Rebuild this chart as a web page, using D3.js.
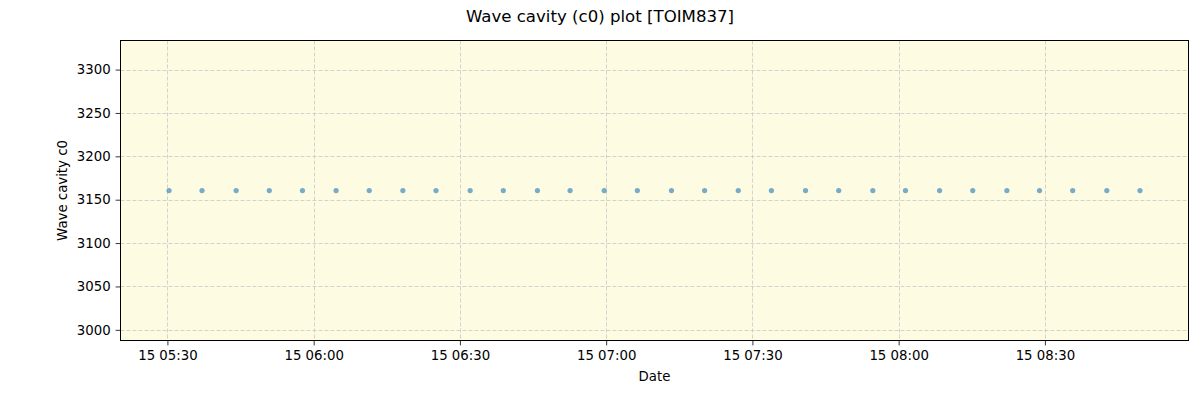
<!DOCTYPE html>
<html>
<head>
  <meta charset="utf-8">
  <script src="https://cdn.jsdelivr.net/npm/d3@7"></script>
  <style>
    body { margin: 0; background: #fff; }
    svg text { font-family: "DejaVu Sans", sans-serif; fill: #000; }
  </style>
</head>
<body>
<script>
  // measurement times (day 15) and wave cavity values
  var times = ["05:30:20", "05:37:06", "05:44:06", "05:50:54", "05:57:42", "06:04:36",
               "06:11:24", "06:18:18", "06:25:06", "06:32:06", "06:38:54", "06:45:54",
               "06:52:36", "06:59:36", "07:06:24", "07:13:24", "07:20:12", "07:27:06",
               "07:33:54", "07:40:54", "07:47:42", "07:54:42", "08:01:24", "08:08:24",
               "08:15:12", "08:22:12", "08:28:54", "08:35:42", "08:42:42", "08:49:30"];
  var c0 = [3160.5, 3160.5, 3160.5, 3160.5, 3160.5, 3160.5, 3160.5, 3160.5, 3160.5, 3160.5,
            3160.5, 3160.5, 3160.5, 3160.5, 3160.5, 3160.5, 3160.5, 3160.5, 3160.5, 3160.5,
            3160.5, 3160.5, 3160.5, 3160.5, 3160.5, 3160.5, 3160.5, 3160.5, 3160.5, 3160.5];
  var xTicks = ["05:30", "06:00", "06:30", "07:00", "07:30", "08:00", "08:30"];
  var yTicks = [3000, 3050, 3100, 3150, 3200, 3250, 3300];

  var parse = d3.timeParse("%Y-%m-%d %H:%M:%S");
  var day = "2024-01-15 ";
  var data = times.map(function(t, i) { return {date: parse(day + t), v: c0[i]}; });

  var W = 1200, H = 400;
  var m = {left: 120.5, right: 1188.5, top: 40.5, bottom: 340.5};

  var svg = d3.select("body").append("svg")
    .attr("width", W).attr("height", H);

  // 5% margins around data, like matplotlib
  var ext = d3.extent(data, function(d) { return d.date; });
  var pad = (ext[1] - ext[0]) * 0.05;
  var x = d3.scaleTime()
    .domain([new Date(+ext[0] - pad), new Date(+ext[1] + pad)])
    .range([m.left, m.right]);
  var y = d3.scaleLinear()
    .domain([2987.7, 3333.5])
    .range([m.bottom, m.top]);

  svg.append("rect")
    .attr("x", m.left).attr("y", m.top)
    .attr("width", m.right - m.left).attr("height", m.bottom - m.top)
    .attr("fill", "#fdfbe2");

  var xTickDates = xTicks.map(function(t) { return parse(day + t + ":00"); });

  // grid
  svg.append("g").selectAll("line").data(xTickDates).enter().append("line")
    .attr("x1", function(d) { return Math.round(x(d)) + 0.5; })
    .attr("x2", function(d) { return Math.round(x(d)) + 0.5; })
    .attr("y1", m.top).attr("y2", m.bottom)
    .attr("stroke", "#c8c8c8").attr("stroke-width", 0.8)
    .attr("stroke-dasharray", "4,2");
  svg.append("g").selectAll("line").data(yTicks).enter().append("line")
    .attr("y1", function(d) { return Math.round(y(d)) + 0.5; })
    .attr("y2", function(d) { return Math.round(y(d)) + 0.5; })
    .attr("x1", m.left).attr("x2", m.right)
    .attr("stroke", "#c8c8c8").attr("stroke-width", 0.8)
    .attr("stroke-dasharray", "4,2");

  // points
  svg.append("g").selectAll("circle").data(data).enter().append("circle")
    .attr("cx", function(d) { return x(d.date); })
    .attr("cy", function(d) { return y(d.v); })
    .attr("r", 2.6)
    .attr("fill", "#1f77b4")
    .attr("fill-opacity", 0.6);

  // axes
  var fmt = d3.timeFormat("%d %H:%M");
  var xAxis = svg.append("g")
    .attr("transform", "translate(0," + m.bottom + ")")
    .call(d3.axisBottom(x).tickValues(xTickDates).tickFormat(fmt).tickSizeOuter(0).tickSize(4.9).tickPadding(4.9));
  var yAxis = svg.append("g")
    .attr("transform", "translate(" + m.left + ",0)")
    .call(d3.axisLeft(y).tickValues(yTicks).tickFormat(d3.format("d")).tickSizeOuter(0).tickSize(4.9).tickPadding(4.9));
  [xAxis, yAxis].forEach(function(a) {
    a.select(".domain").remove();
    a.selectAll("text").style("font-size", "13.3px").style("font-family", "DejaVu Sans, sans-serif");
    a.selectAll("line").attr("stroke", "#000").attr("stroke-width", 0.8);
  });

  // frame
  svg.append("rect")
    .attr("x", m.left).attr("y", m.top)
    .attr("width", m.right - m.left).attr("height", m.bottom - m.top)
    .attr("fill", "none").attr("stroke", "#000").attr("stroke-width", 1);

  // labels
  svg.append("text")
    .attr("x", 600).attr("y", 22)
    .attr("text-anchor", "middle")
    .style("font-size", "16.6px")
    .text("Wave cavity (c0) plot [TOIM837]");
  svg.append("text")
    .attr("x", (m.left + m.right) / 2).attr("y", 381)
    .attr("text-anchor", "middle")
    .style("font-size", "13.3px")
    .text("Date");
  svg.append("text")
    .attr("transform", "translate(67," + ((m.top + m.bottom) / 2) + ") rotate(-90)")
    .attr("text-anchor", "middle")
    .style("font-size", "13.3px")
    .text("Wave cavity c0");
</script>
</body>
</html>
